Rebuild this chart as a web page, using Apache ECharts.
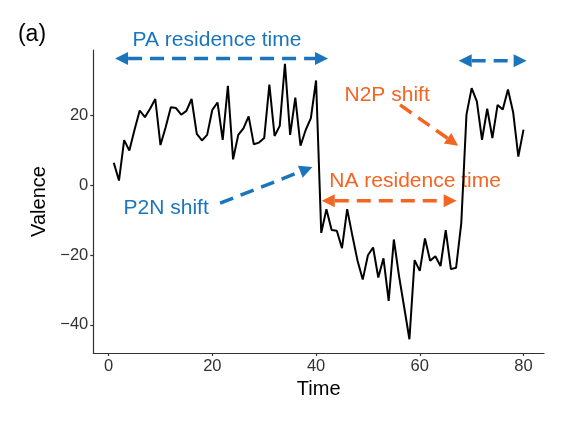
<!DOCTYPE html>
<html><head><meta charset="utf-8">
<script src="https://cdn.jsdelivr.net/npm/echarts@6/dist/echarts.min.js"></script>
<style>html,body{margin:0;padding:0;background:#fff}#c{width:586px;height:430px}</style>
</head><body><div id="c"></div>
<script>
const time = [1,2,3,4,5,6,7,8,9,10,11,12,13,14,15,16,17,18,19,20,
  21,22,23,24,25,26,27,28,29,30,31,32,33,34,35,36,37,38,39,40,
  41,42,43,44,45,46,47,48,49,50,51,52,53,54,55,56,57,58,59,60,
  61,62,63,64,65,66,67,68,69,70,71,72,73,74,75,76,77,78,79,80];
const valence = [6.5,1.4,13,10,16,21.5,19.6,22,24.8,11.6,
  16.7,22.4,22.2,20.3,21.4,24.8,14.8,12.9,14.5,21.7,
  23.8,13.1,28.6,7.5,14.5,16.4,19.8,11.8,12.3,13.6,
  28.9,14.2,17.1,34.9,14.5,25.2,11.4,15.9,19.3,30.1,
  -13.6,-6.8,-12.8,-13,-18,-6.8,-14.4,-21.6,-27,-20,
  -17.8,-26.4,-20.9,-33.1,-15.5,-26,-35,-44.1,-21.4,-24.5,
  -15.2,-21.6,-20.3,-23.1,-12.8,-24,-23.6,-10.8,
  20.3,27.9,24.1,13.1,22,13.6,23.1,21.8,27.5,21,8.3,16];
const xTicks = [0,20,40,60,80];
const yTicks = [-40,-20,0,20];

const BLUE = '#1b75bc';
const ORANGE = '#f26522';
// annotation arrows and labels, in data coordinates (time, valence)
const arrowStarts = [[1.25,36.4],[67.5,35.8],[41.1,-4.4],[56.2,23.1],[21.5,-5.1]];
const arrowEnds   = [[42.3,36.4],[80.6,35.8],[67.1,-4.4],[67.4,11.4],[39.3,5.3]];
const arrowBoth   = [true,true,true,false,false];
const arrowColors = [BLUE,BLUE,ORANGE,ORANGE,BLUE];
const labelTexts  = ['PA residence time','N2P shift','NA residence time','P2N shift'];
const labelPos    = [[20.9,41.8],[53.7,26],[59.1,1.15],[11.1,-6.4]];
const labelColors = [BLUE,ORANGE,ORANGE,BLUE];

const FONT = '"Liberation Sans", Arial, Helvetica, sans-serif';
const xr = Math.max(...time) - Math.min(...time);
const yr = Math.max(...valence) - Math.min(...valence);
const xMin = Math.min(...time) - 0.05*xr, xMax = Math.max(...time) + 0.05*xr;
const yMin = Math.min(...valence) - 0.05*yr, yMax = Math.max(...valence) + 0.05*yr;
const minus = v => String(v).replace('-', '\u2212');

const chart = echarts.init(document.getElementById('c'), null, {renderer:'canvas'});
const axisCommon = {
  axisLine:{show:true, onZero:false, lineStyle:{color:'#333', width:1.2}},
  axisTick:{show:true, length:3, lineStyle:{color:'#333', width:1.2}},
  splitLine:{show:false},
  nameLocation:'middle',
  nameTextStyle:{fontSize:20, color:'#000', fontFamily:FONT}
};
chart.setOption({
  animation:false,
  backgroundColor:'#fff',
  grid:{left:93.3, right:42, top:50, bottom:77, containLabel:false},
  xAxis:Object.assign({}, axisCommon, {
    type:'value', min:xMin, max:xMax, name:'Time', nameGap:21,
    axisTick:Object.assign({}, axisCommon.axisTick, {customValues:xTicks}),
    axisLabel:{customValues:xTicks, fontSize:16.5, color:'#333', fontFamily:FONT, margin:5, formatter:minus}
  }),
  yAxis:Object.assign({}, axisCommon, {
    type:'value', min:yMin, max:yMax, name:'Valence', nameGap:38,
    axisTick:Object.assign({}, axisCommon.axisTick, {customValues:yTicks}),
    axisLabel:{customValues:yTicks, fontSize:16.5, color:'#333', fontFamily:FONT, margin:5, formatter:minus}
  }),
  series:[{
    type:'line', data:time.map((t,i)=>[t,valence[i]]), symbol:'none',
    lineStyle:{color:'#000', width:2}, clip:false
  }]
});

function px(p){ return chart.convertToPixel({xAxisIndex:0, yAxisIndex:0}, p); }
const els = [];
els.push({type:'text', x:32, y:35, style:{text:'(a)', fill:'#000', font:'23px '+FONT, align:'center', verticalAlign:'middle'}});
const L = 13, W = 6.5;
for (let i=0;i<arrowStarts.length;i++){
  const a = px(arrowStarts[i]), b = px(arrowEnds[i]);
  const dx = b[0]-a[0], dy = b[1]-a[1], len = Math.hypot(dx,dy);
  const ux = dx/len, uy = dy/len, nx = -uy, ny = ux;
  const s = arrowBoth[i] ? [a[0]+ux*L, a[1]+uy*L] : a;
  const e = [b[0]-ux*L, b[1]-uy*L];
  const c = arrowColors[i];
  els.push({type:'line', shape:{x1:s[0],y1:s[1],x2:e[0],y2:e[1]}, style:{stroke:c, lineWidth:3.5, lineDash:[14,8]}});
  els.push({type:'polygon', shape:{points:[b,[e[0]+nx*W,e[1]+ny*W],[e[0]-nx*W,e[1]-ny*W]]}, style:{fill:c}});
  if (arrowBoth[i]){
    const s2=[a[0]+ux*L, a[1]+uy*L];
    els.push({type:'polygon', shape:{points:[a,[s2[0]+nx*W,s2[1]+ny*W],[s2[0]-nx*W,s2[1]-ny*W]]}, style:{fill:c}});
  }
}
for (let i=0;i<labelTexts.length;i++){
  const p = px(labelPos[i]);
  els.push({type:'text', x:p[0], y:p[1], style:{text:labelTexts[i], fill:labelColors[i], font:'21px '+FONT, align:'center', verticalAlign:'middle'}});
}
chart.setOption({graphic:{elements:els}});
</script>
</body></html>
